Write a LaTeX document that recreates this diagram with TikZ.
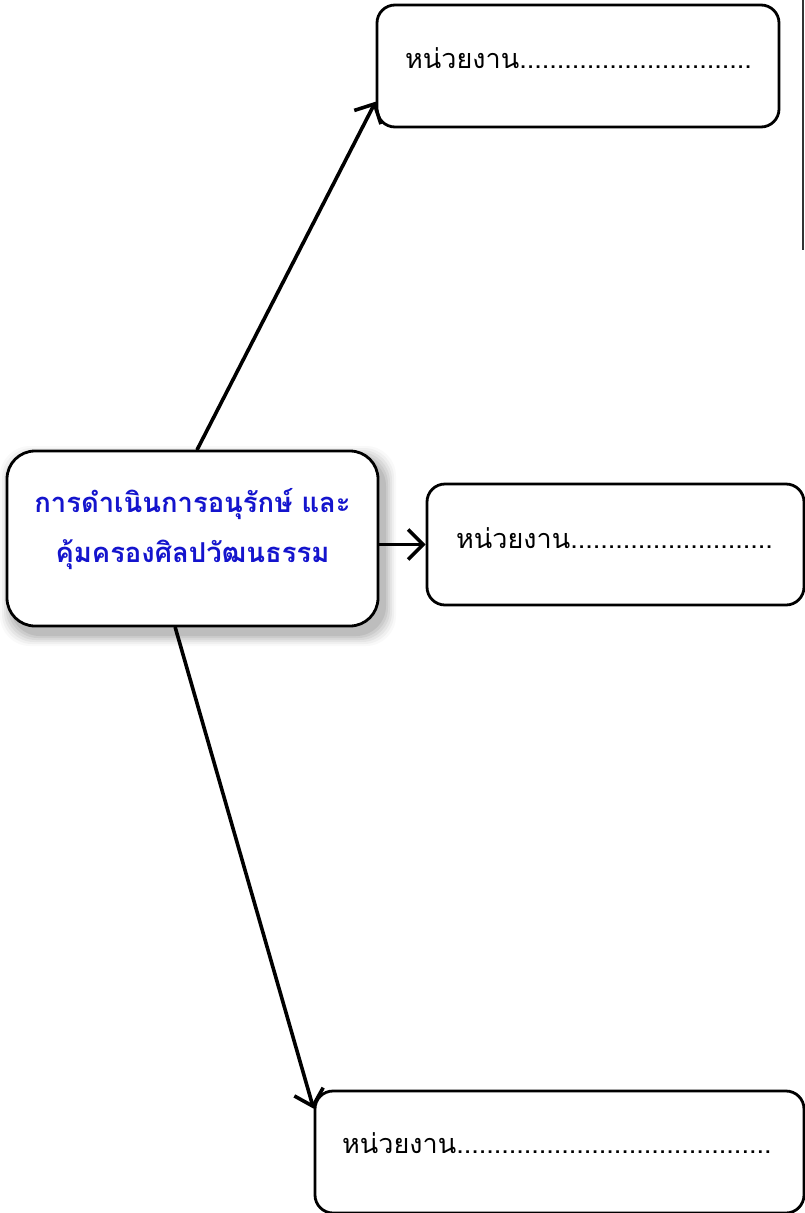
\documentclass[tikz,border=0pt]{standalone}
\usepackage{fontspec}
\newfontfamily\thaifont[Script=Thai]{Loma}
\usetikzlibrary{arrows.meta,calc,shadows}
\begin{document}
\begin{tikzpicture}[x=1pt,y=-1pt,
  unit/.style={draw=black,line width=2.8pt,rounded corners=18pt,fill=white,inner sep=0pt},
  conn/.style={line width=3.6pt,line cap=round,-{Straight Barb[length=15pt,width=30pt,line width=3.6pt]}},
  lbl/.style={font=\thaifont\fontsize{27}{30}\selectfont,anchor=base west,inner sep=0pt},
  ttl/.style={font=\thaifont\bfseries\fontsize{27.4}{50}\selectfont,align=center,inner sep=0pt}]
\useasboundingbox (0,0) rectangle (805,1213);
\fill[white] (0,0) rectangle (805,1213);
% thin line at right edge
\draw[line width=1.8pt,black!80] (803,0) -- (803,250);
% central shadow
\foreach \s/\o in {12/0.025,10/0.035,8/0.045,6/0.05,4/0.06,2/0.07}{
  \fill[black,opacity=\o,rounded corners=30pt] (7+5-\s,451+7-\s) rectangle (378+6+\s,626+8+\s);
}
\node[unit,rounded corners=28pt,minimum width=371pt,minimum height=175pt] (c) at (192.5,538.5) {};
\node[ttl,text={rgb,255:red,20;green,20;blue,205}] (ct) at (192.5,529) {การดำเนินการอนุรักษ์ และ\\คุ้มครองศิลปวัฒนธรรม};
% unit boxes
\node[unit,minimum width=402pt,minimum height=122pt] (t) at (578,66) {};
\node[unit,minimum width=377pt,minimum height=121pt] (m) at (615.5,544.5) {};
\node[unit,minimum width=489pt,minimum height=122pt] (b) at (559.5,1152) {};
\node[lbl] (tl) at (405,68) {หน่วยงาน...............................};
\node[lbl] (ml) at (456,548) {หน่วยงาน...........................};
\node[lbl] (bl) at (342,1153) {หน่วยงาน..........................................};
% connectors
\draw[conn] (c.87) -- (t.190);
\draw[conn] (c.east |- m.west) -- (m.west);
\draw[conn] (c.259) -- (b.170);
\end{tikzpicture}
\end{document}
